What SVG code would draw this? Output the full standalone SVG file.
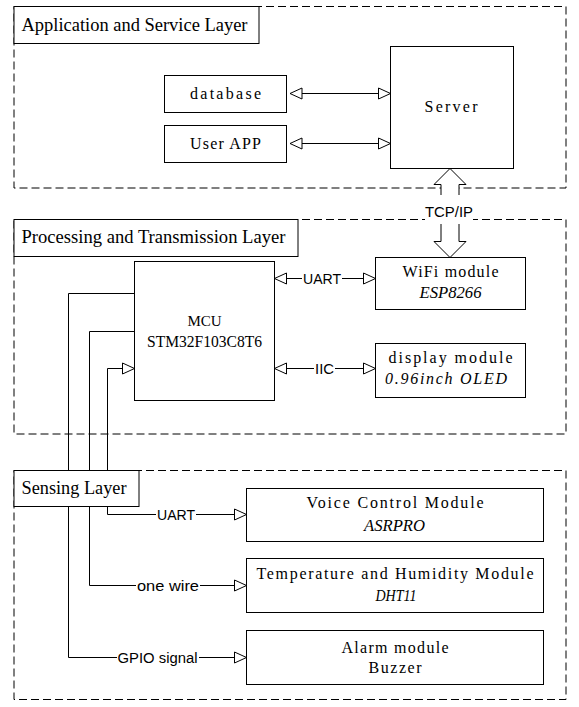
<svg xmlns="http://www.w3.org/2000/svg" width="579" height="707" viewBox="0 0 579 707">
<style>
.layer{fill:none;stroke:#000;stroke-width:1;stroke-dasharray:8 4}
.box{fill:#fff;stroke:#000;stroke-width:1}
.ln{fill:none;stroke:#000;stroke-width:1}
.bg{fill:#fff;stroke:none}
.tt{font-family:"Liberation Serif","Times New Roman",serif;font-size:18.4px;fill:#000}
.tb{font-family:"Liberation Serif","Times New Roman",serif;font-size:16px;fill:#000;text-anchor:middle}
.ti{font-family:"Liberation Serif","Times New Roman",serif;font-size:16px;font-style:italic;fill:#000;text-anchor:middle}
.ts{font-family:"Liberation Serif","Times New Roman",serif;font-size:17px;font-style:italic;fill:#000;text-anchor:middle}
.tl{font-family:"Liberation Sans",Arial,sans-serif;font-size:14px;fill:#000;text-anchor:middle}
</style>
<defs>
<marker id="ah" markerUnits="userSpaceOnUse" markerWidth="14" markerHeight="13" refX="12" refY="5.5" orient="auto-start-reverse" viewBox="-1 -1 14 13">
<path d="M0,0 L12,5.5 L0,11 Z" fill="#fff" stroke="#000" stroke-width="1"/>
</marker>
</defs>
<g id="layers">
<rect id="layer-app" class="layer" x="14" y="6.5" width="552" height="181.5"/>
<rect id="layer-proc" class="layer" x="14" y="219.5" width="552" height="214.5"/>
<rect id="layer-sense" class="layer" x="14" y="470.5" width="552" height="229"/>
</g>
<g id="connectors">
<path class="ln" d="M290,93.5 H390.5" marker-start="url(#ah)" marker-end="url(#ah)"/>
<path class="ln" d="M290,143.5 H390.5" marker-start="url(#ah)" marker-end="url(#ah)"/>
<polygon class="box" points="450,168.5 466,184.5 459,184.5 459,241.5 466,241.5 450,257.5 434,241.5 441,241.5 441,184.5 434,184.5"/>
<rect class="bg" x="425" y="195" width="48" height="29"/>
<text class="tl" x="449" y="217" textLength="48" lengthAdjust="spacingAndGlyphs">TCP/IP</text>
<path class="ln" d="M274.5,278.5 H375.5" marker-start="url(#ah)" marker-end="url(#ah)"/>
<rect class="bg" x="302" y="270" width="40" height="17"/>
<text class="tl" x="322" y="283.5" textLength="38" lengthAdjust="spacingAndGlyphs">UART</text>
<path class="ln" d="M274.5,368.5 H375.5" marker-start="url(#ah)" marker-end="url(#ah)"/>
<rect class="bg" x="314" y="360" width="21" height="17"/>
<text class="tl" x="324.5" y="373.5" textLength="19" lengthAdjust="spacingAndGlyphs">IIC</text>
<path class="ln" d="M134.5,293.5 H68.5 V657.5 H246.5" marker-end="url(#ah)"/>
<path class="ln" d="M134.5,331.5 H89.5 V585.5 H246.5" marker-end="url(#ah)"/>
<path class="ln" d="M134.5,368.5 H107.5 V514.5 H246.5" marker-start="url(#ah)" marker-end="url(#ah)"/>
<rect class="bg" x="156" y="506" width="40" height="17"/>
<text class="tl" x="176" y="519.5" textLength="38" lengthAdjust="spacingAndGlyphs">UART</text>
<rect class="bg" x="136" y="577" width="64" height="17"/>
<text class="tl" x="168" y="590.5" textLength="62" lengthAdjust="spacingAndGlyphs">one wire</text>
<rect class="bg" x="117" y="649" width="82" height="17"/>
<text class="tl" x="157.5" y="662.5" textLength="80" lengthAdjust="spacingAndGlyphs">GPIO signal</text>
</g>
<g id="title-app">
<rect class="box" x="14" y="6.5" width="245" height="37"/>
<text class="tt" x="21.5" y="31" textLength="226" lengthAdjust="spacingAndGlyphs">Application and Service Layer</text>
</g>
<g id="title-proc">
<rect class="box" x="14" y="219.5" width="284" height="37"/>
<text class="tt" x="21.5" y="243" textLength="264" lengthAdjust="spacingAndGlyphs">Processing and Transmission Layer</text>
</g>
<g id="title-sense">
<rect class="box" x="14" y="470.5" width="125" height="36"/>
<text class="tt" x="21.5" y="494" textLength="105" lengthAdjust="spacingAndGlyphs">Sensing Layer</text>
</g>
<g id="database">
<rect class="box" x="164.5" y="75.5" width="122" height="37"/>
<text class="tb" x="225.5" y="99" textLength="71" lengthAdjust="spacing">database</text>
</g>
<g id="user-app">
<rect class="box" x="164.5" y="125.5" width="122" height="37"/>
<text class="tb" x="225.5" y="149" textLength="71" lengthAdjust="spacing">User APP</text>
</g>
<g id="server">
<rect class="box" x="390.5" y="46.5" width="123" height="122"/>
<text class="tb" x="451" y="112" textLength="53" lengthAdjust="spacing">Server</text>
</g>
<g id="mcu">
<rect class="box" x="134.5" y="261.5" width="140" height="139"/>
<text class="tb" x="204.5" y="326" style="font-size:15px">MCU</text>
<text class="tb" x="204.5" y="347" textLength="115" lengthAdjust="spacingAndGlyphs">STM32F103C8T6</text>
</g>
<g id="wifi">
<rect class="box" x="375.5" y="257.5" width="150" height="52"/>
<text class="tb" x="450.5" y="277" textLength="96" lengthAdjust="spacing">WiFi module</text>
<text class="ti" x="450.5" y="298" textLength="62" lengthAdjust="spacingAndGlyphs">ESP8266</text>
</g>
<g id="display">
<rect class="box" x="375.5" y="343.5" width="150" height="54"/>
<text class="tb" x="450.5" y="363" textLength="124" lengthAdjust="spacing">display module</text>
<text class="ti" x="446" y="384" textLength="122" lengthAdjust="spacing">0.96inch OLED</text>
</g>
<g id="voice">
<rect class="box" x="246.5" y="488.5" width="297" height="53"/>
<text class="tb" x="395" y="508" textLength="177" lengthAdjust="spacing">Voice Control Module</text>
<text class="ts" x="394.5" y="531" textLength="61" lengthAdjust="spacingAndGlyphs">ASRPRO</text>
</g>
<g id="temp">
<rect class="box" x="246.5" y="558.5" width="297" height="54"/>
<text class="tb" x="395" y="579" textLength="277" lengthAdjust="spacing">Temperature and Humidity Module</text>
<text class="ts" x="396" y="601" textLength="41" lengthAdjust="spacingAndGlyphs">DHT11</text>
</g>
<g id="alarm">
<rect class="box" x="246.5" y="630.5" width="297" height="54"/>
<text class="tb" x="395" y="653" textLength="107" lengthAdjust="spacing">Alarm module</text>
<text class="tb" x="395" y="673" textLength="53" lengthAdjust="spacing">Buzzer</text>
</g>
</svg>
